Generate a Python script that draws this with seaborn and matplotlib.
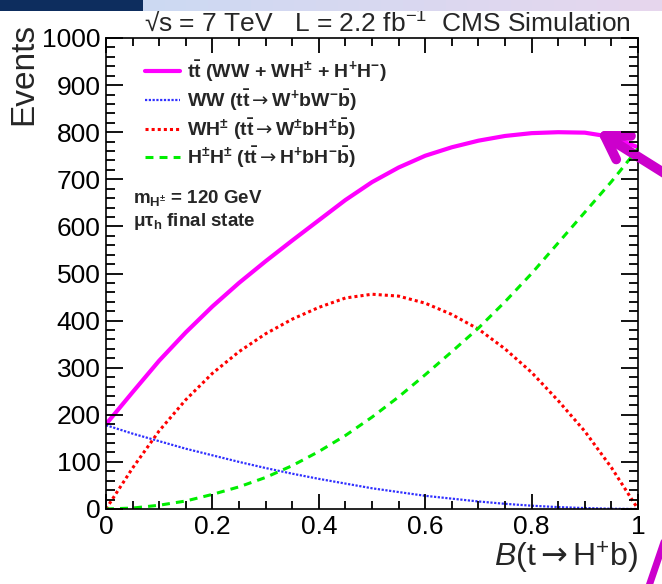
import numpy as np
import pandas as pd
import matplotlib
matplotlib.use("Agg")
import matplotlib.pyplot as plt
import seaborn as sns
from matplotlib.ticker import MultipleLocator, FuncFormatter
from matplotlib.patches import Rectangle

# Branching ratio B(t -> H+ b) and expected event yields
br = [0.00, 0.05, 0.10, 0.15, 0.20, 0.25, 0.30, 0.35, 0.40, 0.45, 0.50,
      0.55, 0.60, 0.65, 0.70, 0.75, 0.80, 0.85, 0.90, 0.95, 1.00]
n_total = [180, 248, 315, 375, 430, 480, 526, 570, 613, 656, 694,
           725, 750, 768, 782, 792, 798, 800, 799, 790, 768]
n_ww = [178, 160, 144, 128, 114, 100, 87, 75, 64, 54, 44,
        36, 28, 22, 16, 11, 7, 4, 2, 0.5, 0]
n_wh = [0, 87, 166, 232, 288, 334, 372, 403, 428, 448, 456,
        452, 437, 413, 382, 340, 290, 230, 165, 88, 0]
n_hh = [0, 2, 8, 17, 31, 47, 67, 92, 122, 156, 195,
        238, 285, 334, 384, 440, 500, 565, 630, 695, 765]

ARROW = r"$\mathsf{\rightarrow}$"
legend_labels = [
    r"$\mathbf{t\bar{t}}$ (WW + WH$^{\mathbf{\pm}}$ + H$^{\mathbf{+}}$H$^{\mathbf{-}}$)",
    r"WW (t$\mathbf{\bar{t}}$" + ARROW + r"W$^{\mathbf{+}}$bW$^{\mathbf{-}}$$\mathbf{\bar{b}}$)",
    r"WH$^{\mathbf{\pm}}$ (t$\mathbf{\bar{t}}$" + ARROW + r"W$^{\mathbf{\pm}}$bH$^{\mathbf{\pm}}$$\mathbf{\bar{b}}$)",
    r"H$^{\mathbf{\pm}}$H$^{\mathbf{\pm}}$ (t$\mathbf{\bar{t}}$" + ARROW + r"H$^{\mathbf{+}}$bH$^{\mathbf{-}}$$\mathbf{\bar{b}}$)",
]

df = pd.DataFrame({"br": br, "total": n_total, "ww": n_ww, "wh": n_wh, "hh": n_hh})

sns.set_theme(style="ticks")
plt.rcParams["font.family"] = ["Liberation Sans", "DejaVu Sans"]
plt.rcParams["mathtext.fontset"] = "custom"
plt.rcParams["mathtext.rm"] = "Liberation Sans"
plt.rcParams["mathtext.it"] = "Liberation Sans:italic"
plt.rcParams["mathtext.bf"] = "Liberation Sans:bold"
plt.rcParams["mathtext.sf"] = "DejaVu Sans"
plt.rcParams["axes.linewidth"] = 1.2

W, H = 662, 584
AX_W, AX_H = 532, 471
fig = plt.figure(figsize=(W / 100, H / 100), dpi=100)
fig.patch.set_facecolor("white")

ax = fig.add_axes([106 / W, 1 - 509 / H, AX_W / W, AX_H / H])

series = [
    ("total", "#ff00ff", 3.0, "-"),
    ("ww", "#3030ff", 1.6, (0, (1, 0.7))),
    ("wh", "#ff0000", 2.2, (0, (1, 1))),
    ("hh", "#00ee00", 2.2, (0, (2.6, 2.0))),
]
for col, color, lw, ls in series:
    sns.lineplot(data=df, x="br", y=col, ax=ax, color=color, lw=lw,
                 linestyle=ls, legend=False)

XMAX, YMAX = 1.0, 1000.0
ax.set_xlim(0, XMAX)
ax.set_ylim(0, YMAX)
ax.xaxis.set_major_locator(MultipleLocator(0.2))
ax.xaxis.set_minor_locator(MultipleLocator(0.05))
ax.yaxis.set_major_locator(MultipleLocator(100))
ax.yaxis.set_minor_locator(MultipleLocator(20))
ax.xaxis.set_major_formatter(FuncFormatter(lambda v, p: f"{v:g}"))
ax.yaxis.set_major_formatter(FuncFormatter(lambda v, p: f"{v:g}"))
ax.tick_params(which="both", direction="in", length=0, labelcolor="black",
               labelsize=19, pad=4)


def tick_path(locs, vmax, px, span, vertical):
    """Inward tick segments on both opposite sides, as one NaN-separated path."""
    a, b = [], []
    frac = px / span
    for v in locs:
        if v < -1e-9 or v > vmax + 1e-9:
            continue
        p = v / vmax
        for s0, s1 in ((0.0, frac), (1.0 - frac, 1.0)):
            if vertical:
                a += [p, p, np.nan]
                b += [s0, s1, np.nan]
            else:
                a += [s0, s1, np.nan]
                b += [p, p, np.nan]
    return a, b


tick_sets = [
    (ax.xaxis.get_majorticklocs(), XMAX, 15, AX_H, True),
    (ax.xaxis.get_minorticklocs(), XMAX, 8, AX_H, True),
    (ax.yaxis.get_majorticklocs(), YMAX, 17, AX_W, False),
    (ax.yaxis.get_minorticklocs(), YMAX, 9, AX_W, False),
]
for locs, vmax, px, span, vertical in tick_sets:
    tx_, ty_ = tick_path(locs, vmax, px, span, vertical)
    ax.plot(tx_, ty_, transform=ax.transAxes, color="black", lw=1.3,
            solid_capstyle="butt", clip_on=False, zorder=4)
for s in ax.spines.values():
    s.set_color("black")

ax.set_ylabel("Events", loc="top", fontsize=24)
ax.yaxis.label.set_va("center")
ax.yaxis.set_label_coords((24 - 106) / AX_W, (509 - 23) / AX_H)
ax.set_xlabel(r"$\mathit{B}$(t" + ARROW + r"H$^{+}$b)", loc="right", fontsize=23)
ax.xaxis.label.set_va("center")
ax.xaxis.set_label_coords(1.0, (509 - 558) / AX_H)

# legend drawn as sample lines plus bold labels
rows_y = [(509 - 71) / AX_H, (509 - 100) / AX_H, (509 - 129) / AX_H, (509 - 157) / AX_H]
for (col, color, lw, ls), ly, lab in zip(series, rows_y, legend_labels):
    ax.plot([0.073, 0.139], [ly, ly], transform=ax.transAxes, color=color,
            lw=lw, linestyle=ls)
    ax.text(0.152, ly, lab, transform=ax.transAxes, fontsize=14,
            fontweight="bold", va="center", ha="left")

ax.text(0.051, (509 - 198) / AX_H, r"m$_{\mathbf{H^{\pm}}}$ = 120 GeV",
        transform=ax.transAxes, fontsize=13.5, fontweight="bold", va="center")
ax.text(0.051, (509 - 221) / AX_H, r"μτ$_{\mathbf{h}}$ final state",
        transform=ax.transAxes, fontsize=13.5, fontweight="bold", va="center")

ax.text(631 / W, 1 - 31 / H,
        r"√s = 7 TeV   L = 2.2 fb$^{-1}$  CMS Simulation",
        transform=fig.transFigure, fontsize=19, ha="right", va="baseline")

# slide banner strip along the top edge
n_strips = 24
c0 = np.array([0.80, 0.85, 0.95])
c1 = np.array([0.90, 0.84, 0.93])
for i in range(n_strips):
    f = i / (n_strips - 1)
    x0 = 143 + (W - 143) * i / n_strips
    fig.patches.append(Rectangle((x0 / W, 1 - 11 / H), (W - 143) / n_strips / W + 0.002,
                                 11 / H, transform=fig.transFigure,
                                 facecolor=c0 * (1 - f) + c1 * f, edgecolor="none"))
fig.patches.append(Rectangle((0, 1 - 11 / H), 143 / W, 11 / H,
                             transform=fig.transFigure, facecolor="#0d2d5e",
                             edgecolor="none"))

# highlight arrows
ax.annotate("", xy=(597, H - 131), xycoords="figure pixels",
            xytext=(672, H - 178), textcoords="figure pixels",
            annotation_clip=False,
            arrowprops=dict(arrowstyle="->,head_length=16,head_width=10",
                            lw=7, color="#cc00cc", mutation_scale=1,
                            shrinkA=0, shrinkB=0))
ax.annotate("", xy=(664, 42), xycoords="figure pixels",
            xytext=(649, -2), textcoords="figure pixels",
            annotation_clip=False,
            arrowprops=dict(arrowstyle="-", lw=5, color="#cc00cc",
                            shrinkA=0, shrinkB=0))

fig.savefig("out.png", dpi=100)
